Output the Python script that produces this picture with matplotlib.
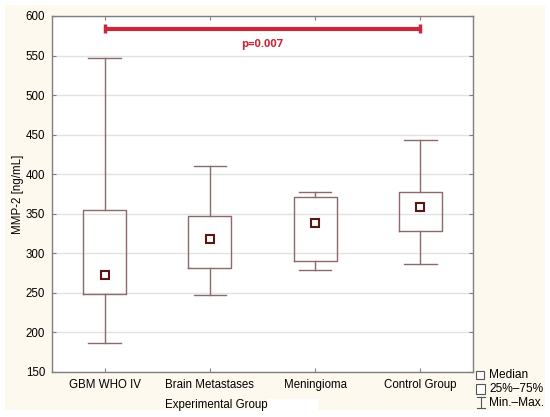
import matplotlib
matplotlib.use("Agg")
import matplotlib.pyplot as plt
from matplotlib.patches import Rectangle
from matplotlib.lines import Line2D

plt.rcParams['font.family'] = ['Liberation Sans', 'DejaVu Sans']

categories = ["GBM WHO IV", "Brain Metastases", "Meningioma", "Control Group"]
mins = [187, 247, 279, 287]
q1s = [249, 281, 290, 328]
medians = [272, 318, 338, 359]
q3s = [355, 347, 371, 378]
maxs = [547, 411, 378, 443]
y_ticks = [150, 200, 250, 300, 350, 400, 450, 500, 550, 600]
sig_y = 584
p_text = "p=0.007"

W, H = 550, 417
fig = plt.figure(figsize=(5.5, 4.17), dpi=100)
fig.patch.set_facecolor("white")
fig.add_artist(Rectangle((5 / W, 1 - 410 / H), 540 / W, 405 / H,
                         transform=fig.transFigure, facecolor="#FDF9EF",
                         edgecolor="none", zorder=-10))
fig.add_artist(Rectangle((268 / W, 0), 50 / W, 18 / H,
                         transform=fig.transFigure, facecolor="white",
                         edgecolor="none", zorder=-9))

ax = fig.add_axes([52 / W, 1 - 372 / H, 421 / W, 356 / H])
ax.set_facecolor("white")

box_col = "#8C6A6A"
stats = []
for i, c in enumerate(categories):
    stats.append(dict(label=c, med=medians[i], q1=q1s[i], q3=q3s[i],
                      whislo=mins[i], whishi=maxs[i], fliers=[]))
pos = list(range(1, len(categories) + 1))
ax.bxp(stats, positions=pos, widths=0.41, showfliers=False,
       boxprops=dict(color=box_col, linewidth=1.0),
       whiskerprops=dict(color=box_col, linewidth=1.0),
       capprops=dict(color=box_col, linewidth=1.0),
       medianprops=dict(linewidth=0), capwidths=0.31, zorder=3)
ax.plot(pos, medians, linestyle="none", marker="s", markersize=6.3,
        markerfacecolor="white", markeredgecolor="#5C1616",
        markeredgewidth=1.5, zorder=4)

ax.set_xlim(0.5, 4.5)
ax.set_ylim(150, 600)
ax.set_yticks(y_ticks)
ax.set_xticks(pos)
ax.set_xticklabels(categories)
ax.yaxis.grid(True, color="#E2E2E2", linewidth=1.0)
ax.set_axisbelow(True)
for s in ax.spines.values():
    s.set_color("#7F7F7F")
    s.set_linewidth(1.0)
ax.tick_params(direction="in", length=3, color="#7F7F7F", labelsize=8.3,
               top=True, right=True, pad=5)

# significance bar
red = "#C9283A"
ax.plot([pos[0], pos[-1]], [sig_y, sig_y], color=red, linewidth=3,
        solid_capstyle="butt", zorder=5)
for xp in (pos[0], pos[-1]):
    ax.plot([xp, xp], [sig_y - 6, sig_y + 6], color=red, linewidth=2.5,
            solid_capstyle="butt", zorder=5)
ax.text((pos[0] + pos[-1]) / 2, sig_y - 20, p_text, color=red,
        fontsize=8, fontweight="bold", ha="center", va="center",
        family=["Open Sans", "DejaVu Sans"])

ax.set_ylabel("MMP-2 [ng/mL]", fontsize=8.3, labelpad=1)
fig.text(216 / W, 1 - 405 / H, "Experimental Group", fontsize=8.3,
         ha="center", va="center")

# legend
lx = 480 / W
fig.add_artist(Line2D([lx], [1 - 375 / H], marker="s", markersize=5.5,
                      markerfacecolor="white", markeredgecolor="#555555",
                      markeredgewidth=0.8, transform=fig.transFigure))
fig.text(489 / W, 1 - 375 / H, "Median", fontsize=8.6, va="center")
fig.add_artist(Rectangle((476 / W, 1 - 394 / H), 9 / W, 10 / H,
                         transform=fig.transFigure, facecolor="white",
                         edgecolor="#555555", linewidth=0.8))
fig.text(489 / W, 1 - 389 / H, "25%\u201375%", fontsize=8.6, va="center")
ix, iy0, iy1 = 480.5, 397, 408
fig.add_artist(Line2D([ix / W, ix / W], [1 - iy0 / H, 1 - iy1 / H],
                      color="#555555", linewidth=0.8, transform=fig.transFigure))
for yy in (iy0, iy1):
    fig.add_artist(Line2D([(ix - 4) / W, (ix + 4) / W], [1 - yy / H, 1 - yy / H],
                          color="#555555", linewidth=0.8,
                          transform=fig.transFigure))
fig.text(489 / W, 1 - 402.5 / H, "Min.\u2013Max.", fontsize=8.6, va="center")

fig.savefig("out.png", dpi=100, facecolor=fig.get_facecolor())
